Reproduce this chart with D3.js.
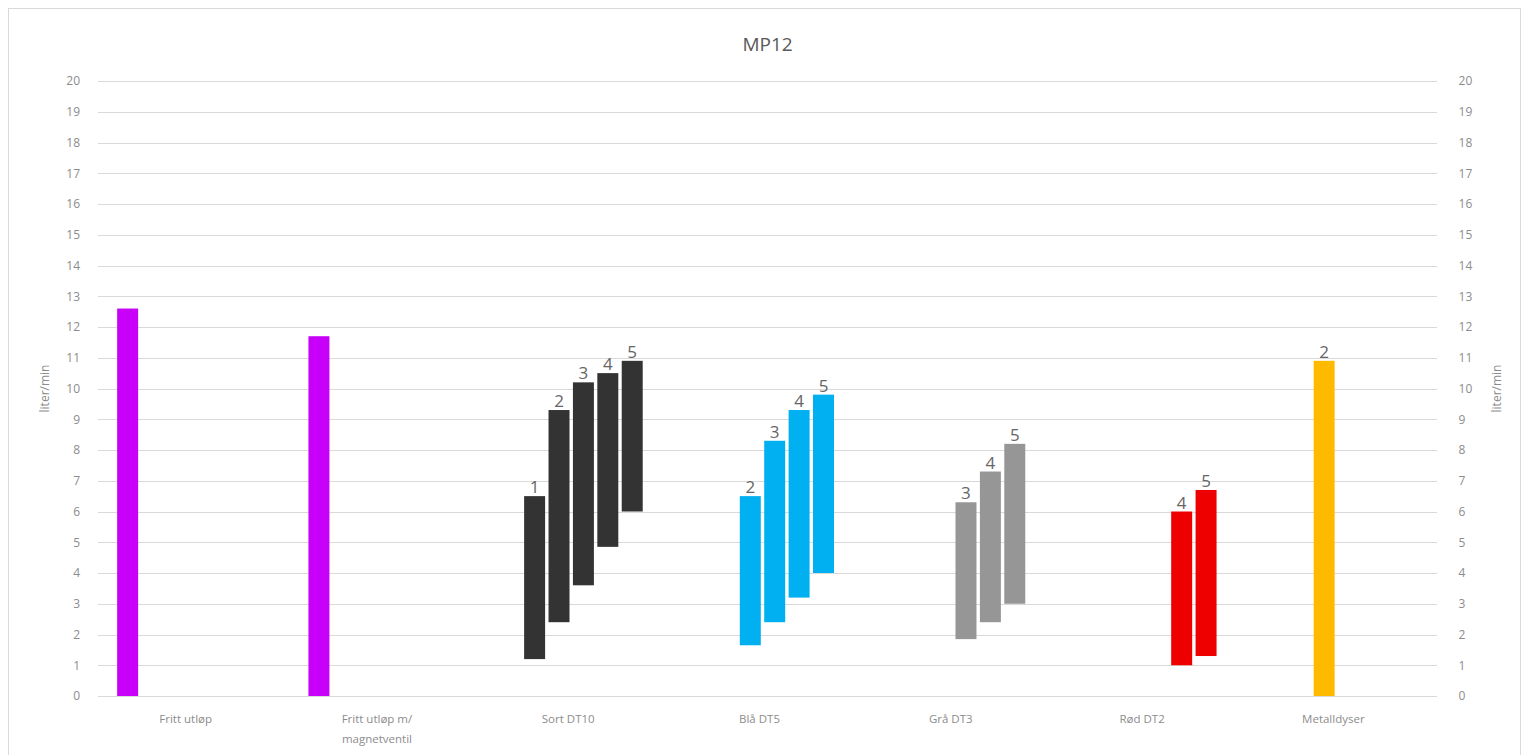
<!DOCTYPE html>
<html>
<head>
<meta charset="utf-8">
<script src="https://cdn.jsdelivr.net/npm/d3@7"></script>
<style>
  body { margin: 0; background: #fff; }
  text { font-family: "Open Sans", "Noto Sans", sans-serif; }
</style>
</head>
<body>
<div id="chart"></div>
<script>
// categories along the x axis
const categories = ["Fritt utløp", "Fritt utløp m/ magnetventil", "Sort DT10", "Blå DT5", "Grå DT3", "Rød DT2", "Metalldyser"];
// series within a category ("" = unlabeled bar)
const seriesKeys = ["", "1", "2", "3", "4", "5"];
const yTicks = d3.range(0, 21);

// floating bars per category: series, low, high
const frittSeries = [""];
const frittLow = [0];
const frittHigh = [12.6];

const frittMagSeries = [""];
const frittMagLow = [0];
const frittMagHigh = [11.7];

const sortSeries = ["1", "2", "3", "4", "5"];
const sortLow = [1.2, 2.4, 3.6, 4.85, 6.0];
const sortHigh = [6.5, 9.3, 10.2, 10.5, 10.9];

const blaSeries = ["2", "3", "4", "5"];
const blaLow = [1.65, 2.4, 3.2, 4.0];
const blaHigh = [6.5, 8.3, 9.3, 9.8];

const graSeries = ["3", "4", "5"];
const graLow = [1.85, 2.4, 3.0];
const graHigh = [6.3, 7.3, 8.2];

const rodSeries = ["4", "5"];
const rodLow = [1.0, 1.3];
const rodHigh = [6.0, 6.7];

const metallSeries = ["2"];
const metallLow = [0];
const metallHigh = [10.9];

const colors = ["#c800fa", "#c800fa", "#333333", "#00b0f0", "#969696", "#ee0000", "#ffba00"];

const groups = [
  [frittSeries, frittLow, frittHigh],
  [frittMagSeries, frittMagLow, frittMagHigh],
  [sortSeries, sortLow, sortHigh],
  [blaSeries, blaLow, blaHigh],
  [graSeries, graLow, graHigh],
  [rodSeries, rodLow, rodHigh],
  [metallSeries, metallLow, metallHigh],
];

const bars = [];
groups.forEach(([s, lo, hi], i) => {
  s.forEach((key, j) => {
    bars.push({ category: categories[i], series: key, low: lo[j], high: hi[j], color: colors[i] });
  });
});

const width = 1524;
const height = 755;
const margin = { top: 81, right: 87, bottom: 59, left: 98 };

const svg = d3.select("#chart")
  .append("svg")
  .attr("width", width)
  .attr("height", height)
  .attr("viewBox", [0, 0, width, height]);

// chart border
svg.append("rect")
  .attr("x", 8.5).attr("y", 8.5)
  .attr("width", 1512).attr("height", 770)
  .attr("fill", "none")
  .attr("stroke", "#d9d9d9");

const x = d3.scaleBand()
  .domain(categories)
  .range([margin.left, width - margin.right]);

const y = d3.scaleLinear()
  .domain([0, 20])
  .range([height - margin.bottom, margin.top]);

// series slots inside each category (cluster sits a bit left of centre)
const step = 24.4;
const shift = -5;
const xSeries = d3.scaleBand()
  .domain(seriesKeys)
  .range([-step * 3 + shift, step * 3 + shift])
  .paddingInner(0.14)
  .paddingOuter(0.07);

// gridlines
svg.append("g")
  .selectAll("line")
  .data(yTicks)
  .join("line")
  .attr("x1", margin.left)
  .attr("x2", width - margin.right)
  .attr("y1", (d) => Math.round(y(d)) + 0.5)
  .attr("y2", (d) => Math.round(y(d)) + 0.5)
  .attr("stroke", "#d9d9d9")
  .attr("stroke-width", 1);

// left and right axes
const leftAxis = svg.append("g")
  .attr("transform", `translate(${margin.left - 18}, 0)`)
  .call(d3.axisLeft(y).tickValues(yTicks).tickSize(0).tickPadding(0));
const rightAxis = svg.append("g")
  .attr("transform", `translate(${width - margin.right + 18}, 0)`)
  .call(d3.axisRight(y).tickValues(yTicks).tickSize(0).tickPadding(0));
[leftAxis, rightAxis].forEach((g) => {
  g.select(".domain").remove();
  g.selectAll("text")
    .attr("fill", "#8c8c8c")
    .attr("font-size", 12);
});
rightAxis.selectAll("text").attr("dx", "0.3em");

// category labels
const xLabels = svg.append("g")
  .selectAll("text")
  .data(categories)
  .join("text")
  .attr("x", (d) => x(d) + x.bandwidth() / 2 - 8)
  .attr("y", height - margin.bottom + 27)
  .attr("text-anchor", "middle")
  .attr("fill", "#8c8c8c")
  .attr("font-size", 11.5);
xLabels.each(function (d) {
  const lines = d === "Fritt utløp m/ magnetventil" ? ["Fritt utløp m/", "magnetventil"] : [d];
  d3.select(this)
    .selectAll("tspan")
    .data(lines)
    .join("tspan")
    .attr("x", x(d) + x.bandwidth() / 2 - 8)
    .attr("dy", (l, i) => (i === 0 ? 0 : 20))
    .text((l) => l);
});

// bars
svg.append("g")
  .selectAll("rect")
  .data(bars)
  .join("rect")
  .attr("x", (d) => x(d.category) + x.bandwidth() / 2 + xSeries(d.series))
  .attr("width", xSeries.bandwidth())
  .attr("y", (d) => y(d.high))
  .attr("height", (d) => y(d.low) - y(d.high))
  .attr("fill", (d) => d.color);

// series labels above bars
svg.append("g")
  .selectAll("text")
  .data(bars.filter((d) => d.series !== ""))
  .join("text")
  .attr("x", (d) => x(d.category) + x.bandwidth() / 2 + xSeries(d.series) + xSeries.bandwidth() / 2)
  .attr("y", (d) => y(d.high) - 3)
  .attr("text-anchor", "middle")
  .attr("fill", "#666666")
  .attr("font-size", 17)
  .text((d) => d.series);

// title
svg.append("text")
  .attr("x", (margin.left + width - margin.right) / 2)
  .attr("y", 51)
  .attr("text-anchor", "middle")
  .attr("fill", "#595959")
  .attr("font-size", 19)
  .text("MP12");

// axis titles
const midY = (margin.top + height - margin.bottom) / 2;
svg.append("text")
  .attr("transform", `translate(49, ${midY}) rotate(-90)`)
  .attr("text-anchor", "middle")
  .attr("fill", "#8c8c8c")
  .attr("font-size", 12)
  .text("liter/min");
svg.append("text")
  .attr("transform", `translate(1501, ${midY}) rotate(-90)`)
  .attr("text-anchor", "middle")
  .attr("fill", "#8c8c8c")
  .attr("font-size", 12)
  .text("liter/min");
</script>
</body>
</html>
